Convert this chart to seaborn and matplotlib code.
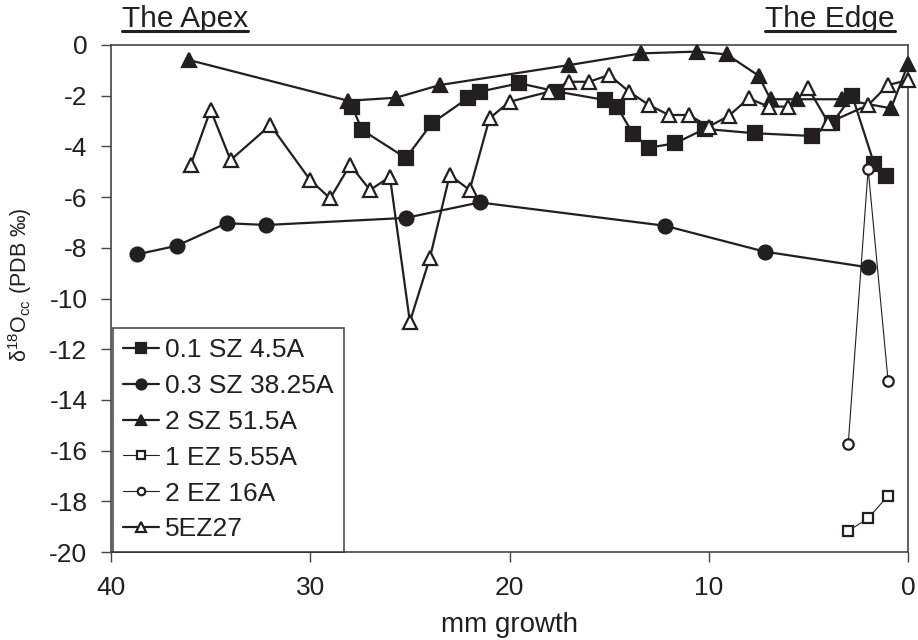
import matplotlib
matplotlib.use("Agg")
import matplotlib.pyplot as plt
import seaborn as sns
import pandas as pd
from matplotlib.lines import Line2D

# ---- data ----
sz45_x = [27.9, 27.4, 25.2, 23.9, 22.1, 21.5, 19.5, 17.6, 15.2, 14.6, 13.8, 13.0, 11.7, 10.2, 7.7, 4.8, 3.8, 2.8, 1.7, 1.1]
sz45_y = [-2.43, -3.35, -4.46, -3.09, -2.10, -1.84, -1.51, -1.84, -2.17, -2.43, -3.51, -4.05, -3.88, -3.31, -3.48, -3.59, -3.07, -2.00, -4.69, -5.16]

sz3825_x = [38.7, 36.7, 34.2, 32.2, 25.2, 21.5, 12.2, 7.2, 2.0]
sz3825_y = [-8.26, -7.92, -7.03, -7.10, -6.82, -6.21, -7.13, -8.15, -8.77]

sz515_x = [36.1, 28.1, 25.7, 23.5, 17.0, 13.4, 10.6, 9.1, 7.5, 6.9, 5.55, 3.3, 0.85, 0.0]
sz515_y = [-0.59, -2.20, -2.08, -1.58, -0.79, -0.33, -0.26, -0.37, -1.21, -2.14, -2.14, -2.14, -2.50, -0.76]

ez555_x = [3.0, 2.0, 1.0]
ez555_y = [-19.17, -18.67, -17.78]

ez16_x = [3.0, 2.0, 1.0]
ez16_y = [-15.74, -4.89, -13.24]

ez27_x = [36, 35, 34, 32, 30, 29, 28, 27, 26, 25, 24, 23, 22, 21, 20, 18, 17, 16, 15, 14, 13, 12, 11, 10, 9, 8, 7, 6, 5, 4, 2, 1, 0]
ez27_y = [-4.73, -2.56, -4.54, -3.16, -5.33, -6.05, -4.73, -5.72, -5.20, -10.92, -8.41, -5.13, -5.72, -2.89, -2.24, -1.84, -1.45, -1.45, -1.18, -1.84, -2.37, -2.76, -2.76, -3.22, -2.80, -2.10, -2.43, -2.43, -1.71, -3.07, -2.37, -1.58, -1.38]

labels = ["0.1 SZ 4.5A", "0.3 SZ 38.25A", "2 SZ 51.5A", "1 EZ 5.55A", "2 EZ 16A", "5EZ27"]
x_ticks = [40, 30, 20, 10, 0]
y_ticks = [0, -2, -4, -6, -8, -10, -12, -14, -16, -18, -20]

# ---- style ----
sns.set_theme(style="ticks")
plt.rcParams["font.family"] = ["Liberation Sans", "DejaVu Sans"]
plt.rcParams["mathtext.fontset"] = "custom"
plt.rcParams["mathtext.rm"] = "Liberation Sans"
plt.rcParams["mathtext.it"] = "Liberation Sans:italic"
plt.rcParams["mathtext.default"] = "regular"

ink = "#231f20"

fig = plt.figure(figsize=(9.18, 6.40), dpi=100)
ax = fig.add_axes([111 / 918, 1 - 552 / 640, (908 - 111) / 918, (552 - 45) / 640])

series = [
    (sz45_x, sz45_y, labels[0], "s", ink, 10, 1.6),
    (sz3825_x, sz3825_y, labels[1], "o", ink, 10, 1.6),
    (sz515_x, sz515_y, labels[2], "^", ink, 10.5, 1.6),
    (ez555_x, ez555_y, labels[3], "s", "white", 7.5, 0.8),
    (ez16_x, ez16_y, labels[4], "o", "white", 7.5, 0.8),
    (ez27_x, ez27_y, labels[5], "^", "white", 9.5, 1.6),
]

for xs, ys, lab, mk, fc, ms, lw in series:
    df = pd.DataFrame({"x": xs, "y": ys})
    sns.lineplot(data=df, x="x", y="y", ax=ax, sort=False, estimator=None,
                 color=ink, linewidth=lw, marker=mk, markersize=ms,
                 markerfacecolor=fc, markeredgecolor=ink,
                 markeredgewidth=1.6, label=lab, clip_on=False, zorder=3)

ax.set_xlim(40, 0)
ax.set_ylim(-20, 0)
ax.set_xticks(x_ticks)
ax.set_yticks(y_ticks)
ax.set_xticklabels([str(v) for v in x_ticks])
ax.set_yticklabels([str(v).replace("\u2212", "-") for v in y_ticks])
ax.tick_params(axis="both", direction="out", length=7, width=1, color="#444444",
               labelsize=19, labelcolor=ink, pad=10)
for sp in ax.spines.values():
    sp.set_visible(True)
    sp.set_color("#444444")
    sp.set_linewidth(1.2)

ax.set_xlabel("mm growth", fontsize=20, color=ink, labelpad=9)
ax.set_ylabel("\u03b4$^{18}$O$_{cc}$ (PDB \u2030)", fontsize=15.5, color=ink)
ax.yaxis.set_label_coords(-0.096, 0.528)
ax.grid(False)

handles, labs = ax.get_legend_handles_labels()
leg = ax.legend(handles, labs, loc="lower left", bbox_to_anchor=(0.002, 0.0),
                borderaxespad=0, frameon=True, fancybox=False, edgecolor=ink,
                fontsize=19, handlelength=1.35, handletextpad=0.25,
                labelspacing=0.45, borderpad=0.4, markerscale=0.72)
leg.get_frame().set_linewidth(1.2)
for t in leg.get_texts():
    t.set_color(ink)

# underlined headers
t1 = fig.text(122 / 918, 1 - 27 / 640, "The Apex", fontsize=21.5, color=ink, ha="left", va="baseline")
t2 = fig.text(895 / 918, 1 - 27 / 640, "The Edge", fontsize=21.5, color=ink, ha="right", va="baseline")
fig.canvas.draw()
inv = fig.transFigure.inverted()
for t in (t1, t2):
    bb = t.get_window_extent()
    (x0, y0), (x1, y1) = inv.transform([(bb.x0, bb.y0), (bb.x1, bb.y1)])
    yy = 1 - 31 / 640
    fig.add_artist(Line2D([x0, x1], [yy, yy], transform=fig.transFigure, color=ink, linewidth=2.2))

fig.savefig("out.png", dpi=100)
